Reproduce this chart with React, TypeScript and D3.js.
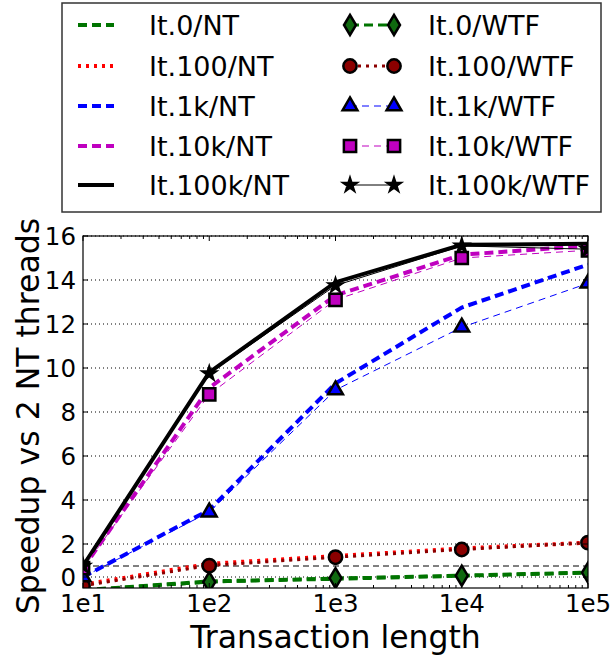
import React from "react"
import { scaleLog, scaleLinear, line, symbol, symbolDiamond, symbolCircle, symbolTriangle, symbolSquare, symbolStar } from "d3"

const lengths = [10, 100, 1000, 10000, 100000]
const xTickLabels = ["1e1", "1e2", "1e3", "1e4", "1e5"]
const yTickValues = [0.5, 2, 4, 6, 8, 10, 12, 14, 16]
const yTickLabels = ["0", "2", "4", "6", "8", "10", "12", "14", "16"]

const ntIt0 = [-0.1, 0.3, 0.42, 0.56, 0.7]
const ntIt100 = [0.15, 1.1, 1.45, 1.8, 2.06]
const ntIt1k = [0.5, 3.55, 9.3, 12.75, 14.7]
const ntIt10k = [0.9, 9.1, 13.3, 15.15, 15.55]
const ntIt100k = [1.0, 9.8, 13.9, 15.6, 15.65]

const wtfIt0 = [-0.1, 0.27, 0.45, 0.56, 0.7]
const wtfIt100 = [0.1, 1.02, 1.4, 1.75, 2.06]
const wtfIt1k = [0.5, 3.45, 9.0, 11.85, 13.85]
const wtfIt10k = [0.9, 8.8, 13.1, 15.0, 15.35]
const wtfIt100k = [1.0, 9.75, 13.75, 15.55, 15.4]

const refSpeedup = 1

const font = "'DejaVu Sans', sans-serif"

const ntSeries = [
  { name: "It.0/NT", values: ntIt0, color: "#007400", width: 4, dash: "9,5" },
  { name: "It.100/NT", values: ntIt100, color: "#ff0000", width: 4, dash: "3,5" },
  { name: "It.1k/NT", values: ntIt1k, color: "#0000ff", width: 4, dash: "9,5" },
  { name: "It.10k/NT", values: ntIt10k, color: "#bf00bf", width: 4, dash: "9,5" },
  { name: "It.100k/NT", values: ntIt100k, color: "#000000", width: 4, dash: null },
]

const wtfSeries = [
  { name: "It.0/WTF", values: wtfIt0, color: "#007400", face: "#106a10", width: 3, dash: "9,5", shape: symbolDiamond, size: 150 },
  { name: "It.100/WTF", values: wtfIt100, color: "#8b0000", face: "#8b0000", width: 3, dash: "3,5", shape: symbolCircle, size: 140 },
  { name: "It.1k/WTF", values: wtfIt1k, color: "#0000ff", face: "#0000ff", width: 1, dash: "7,5", shape: symbolTriangle, size: 95 },
  { name: "It.10k/WTF", values: wtfIt10k, color: "#bf00bf", face: "#bf00bf", width: 1, dash: "7,5", shape: symbolSquare, size: 150 },
  { name: "It.100k/WTF", values: wtfIt100k, color: "#000000", face: "#000000", width: 1, dash: null, shape: symbolStar, size: 50 },
]

export default function App() {
  const left = 83, right = 588, top = 236, bottom = 588
  const x = scaleLog().domain([10, 100000]).range([left, right])
  const y = scaleLinear().domain([0, 16]).range([bottom, top])
  const path = line<number>().x((d, i) => x(lengths[i])).y(d => y(d))

  const minor: number[] = []
  for (let dec = 10; dec < 100000; dec *= 10) {
    for (let k = 2; k < 10; k++) minor.push(dec * k)
  }

  // matplotlib's diamond is thinner than d3's
  const diamond = (s: number) => `M0,${-s}L${s * 0.6},0L0,${s}L${-s * 0.6},0Z`

  const markerPath = (s: any) =>
    s.shape === symbolDiamond ? diamond(10) : symbol(s.shape, s.size)()

  const rows = [25, 66, 106, 146, 185]

  return (
    <svg width={613} height={655} style={{ position: "absolute", left: 0, top: 0, background: "#fff" }}>
      <defs>
        <clipPath id="plotclip">
          <rect x={left} y={top} width={right - left} height={bottom - top} />
        </clipPath>
      </defs>

      {yTickValues.map((v, i) => (
        <line key={i} x1={left} x2={right} y1={y(v)} y2={y(v)} stroke="#000" strokeWidth={1} strokeDasharray="1,3" />
      ))}
      <line x1={left} x2={right} y1={y(refSpeedup)} y2={y(refSpeedup)} stroke="#000" strokeWidth={1} strokeDasharray="6,4" />

      <g clipPath="url(#plotclip)">
        {ntSeries.map(s => (
          <path key={s.name} d={path(s.values) || ""} fill="none" stroke={s.color} strokeWidth={s.width}
            strokeDasharray={s.dash || undefined} />
        ))}
        {wtfSeries.map(s => (
          <g key={s.name}>
            <path d={path(s.values) || ""} fill="none" stroke={s.color} strokeWidth={s.width}
              strokeDasharray={s.dash || undefined} />
            {s.values.map((v, i) => (
              <path key={i} d={markerPath(s)} transform={`translate(${x(lengths[i])},${y(v)})`}
                fill={s.face} stroke="#000" strokeWidth={2.5} />
            ))}
          </g>
        ))}
      </g>

      <rect x={left} y={top} width={right - left} height={bottom - top} fill="none" stroke="#000" strokeWidth={1.2} />

      {lengths.map((d, i) => (
        <g key={d}>
          <line x1={x(d)} x2={x(d)} y1={bottom} y2={bottom - 5} stroke="#000" />
          <line x1={x(d)} x2={x(d)} y1={top} y2={top + 5} stroke="#000" />
          <text x={x(d)} y={612} textAnchor="middle" fontFamily={font} fontSize={24.5}>{xTickLabels[i]}</text>
        </g>
      ))}
      {minor.map(d => (
        <g key={d}>
          <line x1={x(d)} x2={x(d)} y1={bottom} y2={bottom - 3} stroke="#000" />
          <line x1={x(d)} x2={x(d)} y1={top} y2={top + 3} stroke="#000" />
        </g>
      ))}
      {yTickValues.map((v, i) => (
        <g key={v}>
          <line x1={left} x2={left + 5} y1={y(v)} y2={y(v)} stroke="#000" />
          <line x1={right} x2={right - 5} y1={y(v)} y2={y(v)} stroke="#000" />
          <text x={76} y={y(v)} dy="0.36em" textAnchor="end" fontFamily={font} fontSize={24.5}>{yTickLabels[i]}</text>
        </g>
      ))}

      <text x={(left + right) / 2} y={648} textAnchor="middle" fontFamily={font} fontSize={31.5}>Transaction length</text>
      <text transform={`translate(39,${(top + bottom) / 2 + 4}) rotate(-90)`} textAnchor="middle" fontFamily={font} fontSize={31.5}>
        Speedup vs 2 NT threads
      </text>

      <rect x={62} y={3} width={539} height={209} fill="#fff" stroke="#333" strokeWidth={1.5} />
      {ntSeries.map((s, i) => (
        <g key={s.name}>
          <line x1={78} x2={114} y1={rows[i]} y2={rows[i]} stroke={s.color} strokeWidth={s.width}
            strokeDasharray={s.dash || undefined} />
          <text x={149} y={rows[i]} dy="0.36em" fontFamily={font} fontSize={27}>{s.name}</text>
        </g>
      ))}
      {wtfSeries.map((s, i) => (
        <g key={s.name}>
          <line x1={350} x2={394} y1={rows[i]} y2={rows[i]} stroke={s.color} strokeWidth={s.width}
            strokeDasharray={s.dash || undefined} />
          {[350, 394].map(px => (
            <path key={px} d={markerPath(s)} transform={`translate(${px},${rows[i]})`}
              fill={s.face} stroke="#000" strokeWidth={2.5} />
          ))}
          <text x={428} y={rows[i]} dy="0.36em" fontFamily={font} fontSize={27}>{s.name}</text>
        </g>
      ))}
    </svg>
  )
}
